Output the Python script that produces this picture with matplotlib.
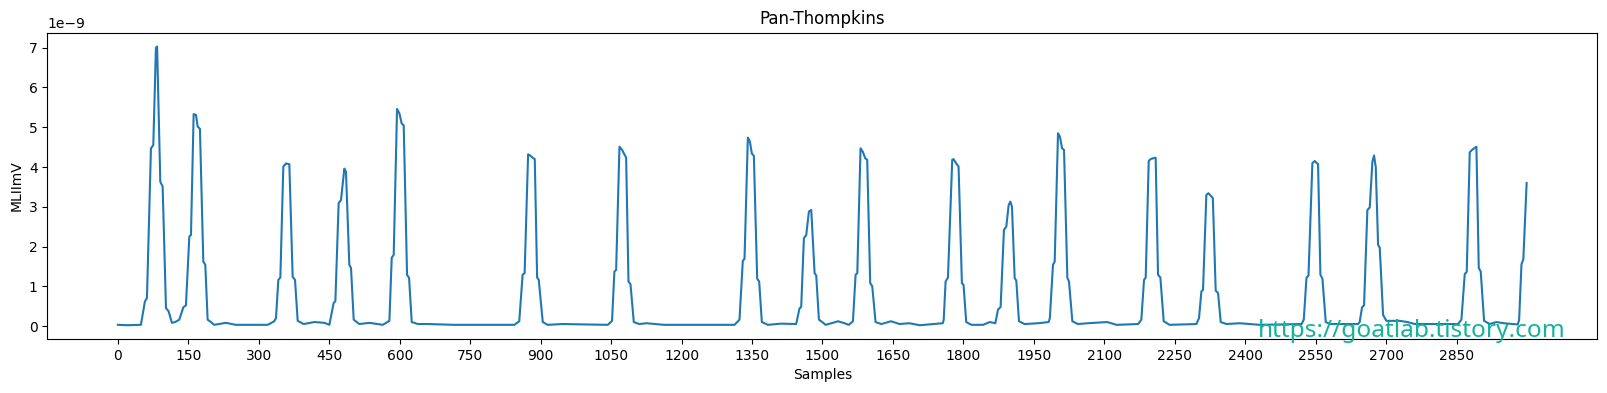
import numpy as np
from matplotlib import pyplot as plt

### Breakpoints of the integrated signal (sample index, value in 1e-9 mV)
samples = [0, 20, 49, 57.6, 61.9, 70.4, 75.4, 81, 83.5, 90.3, 95.3, 102.4, 108, 115.1, 122, 130.8,
           139.3, 144.9, 152.1, 155.6, 161.3, 166.3, 169.8, 174.7, 181.9, 186.1, 191.1, 198, 205,
           230, 251, 319, 333, 336.6, 341.6, 345.9, 352.2, 357.9, 365, 372.1, 377.1, 382.8, 395.6,
           418.3, 439.6, 450.2, 459.3, 463, 470, 475, 482.1, 485.6, 492.7, 496.3, 502, 514, 535.4,
           563.8, 578, 583, 587.2, 594.3, 599.3, 604.3, 608.5, 615.6, 619.9, 625.6, 638.4, 659.7,
           716, 844, 854.5, 861.6, 865.9, 873.3, 877.5, 884.6, 887.5, 892.5, 896, 904.5, 915, 947,
           1043, 1052, 1057, 1060.7, 1067.8, 1073.5, 1079, 1082, 1087, 1091.3, 1098.3, 1110, 1125,
           1163, 1312.7, 1323.3, 1330.4, 1334, 1341.1, 1345.3, 1349.6, 1353.9, 1361, 1365.2, 1370.9,
           1383.7, 1412, 1444, 1451, 1454.7, 1460.4, 1465.4, 1471.1, 1476.1, 1483.2, 1486.7, 1492.4,
           1499.5, 1506.6, 1522, 1533, 1547, 1556, 1564.8, 1570.5, 1574.1, 1581, 1586, 1591, 1595.2,
           1601.6, 1605.9, 1613, 1625, 1646, 1664, 1685, 1707, 1756, 1758, 1762.1, 1767.1, 1776.2,
           1779, 1784.7, 1789.7, 1796.8, 1800.3, 1806, 1817, 1842, 1856, 1868, 1873.6, 1879.2,
           1886.3, 1891.3, 1896.3, 1899.9, 1903.4, 1909.1, 1912.6, 1918.3, 1930, 1959, 1981.5, 1984,
           1990.7, 1994.3, 2001.4, 2005.6, 2009.9, 2014.2, 2021.3, 2024.8, 2031.9, 2044, 2065, 2106,
           2126, 2172, 2178.8, 2184.5, 2188.1, 2194.5, 2198.7, 2207.2, 2209.3, 2214.3, 2219.3, 2226.4,
           2239, 2296, 2301.6, 2306.6, 2310.1, 2317.2, 2321.5, 2327.9, 2331, 2337.1, 2342.1, 2347.8,
           2360, 2388, 2431, 2520, 2524.6, 2530.3, 2534.6, 2542.9, 2547.9, 2555, 2560, 2564.3, 2571.4,
           2580, 2640, 2643.6, 2648.6, 2652.9, 2660, 2665, 2670.7, 2674.2, 2677.8, 2682.8, 2686.3,
           2693.4, 2700.5, 2729, 2745, 2761, 2853, 2860.2, 2867.3, 2871.5, 2877.9, 2882.8, 2887.1,
           2892.1, 2897.1, 2901.3, 2908.4, 2920.5, 2934.7, 2950, 2980, 2983, 2988, 2992, 2999]
values = [0.03, 0.02, 0.03, 0.62, 0.70, 4.47, 4.55, 7.0, 7.03, 3.63, 3.51, 0.45, 0.37, 0.08, 0.1, 0.16,
          0.47, 0.52, 2.25, 2.29, 5.33, 5.31, 5.02, 4.96, 1.62, 1.54, 0.16, 0.1, 0.03,
          0.08, 0.03, 0.03, 0.12, 0.2, 1.16, 1.22, 4.01, 4.09, 4.07, 1.24, 1.16, 0.13, 0.05,
          0.1, 0.08, 0.03, 0.58, 0.62, 3.09, 3.17, 3.96, 3.88, 1.54, 1.46, 0.16, 0.05, 0.08,
          0.03, 0.13, 1.72, 1.79, 5.46, 5.35, 5.09, 5.05, 1.29, 1.21, 0.1, 0.05, 0.05,
          0.03, 0.03, 0.12, 1.29, 1.33, 4.32, 4.29, 4.22, 4.2, 1.22, 1.16, 0.1, 0.03, 0.05,
          0.03, 0.13, 1.37, 1.41, 4.51, 4.43, 4.3, 4.24, 1.12, 1.05, 0.1, 0.05, 0.07,
          0.03, 0.03, 0.16, 1.64, 1.69, 4.74, 4.65, 4.34, 4.28, 1.19, 1.12, 0.1,
          0.03, 0.06, 0.05, 0.44, 0.48, 2.21, 2.29, 2.88, 2.92, 1.33, 1.27, 0.16,
          0.1, 0.03, 0.08, 0.12, 0.07, 0.03, 0.12, 1.29, 1.33, 4.47, 4.38, 4.22, 4.18,
          1.08, 1.0, 0.1, 0.05, 0.12, 0.05, 0.07, 0.02, 0.07, 0.15, 1.12, 1.22, 4.18,
          4.2, 4.09, 4.01, 1.08, 1.03, 0.1, 0.03, 0.03, 0.1, 0.07, 0.41, 0.48,
          2.42, 2.5, 3.04, 3.13, 3.0, 1.21, 1.14, 0.12, 0.05, 0.07, 0.1, 0.2,
          1.54, 1.62, 4.85, 4.76, 4.47, 4.43, 1.21, 1.12, 0.12, 0.05, 0.07, 0.1,
          0.03, 0.05, 0.16, 1.16, 1.22, 4.15, 4.2, 4.23, 4.23, 1.29, 1.22, 0.12,
          0.03, 0.05, 0.2, 0.87, 0.91, 3.3, 3.34, 3.26, 3.22, 0.89, 0.83, 0.1,
          0.05, 0.07, 0.03, 0.05, 0.16, 1.21, 1.27, 4.1, 4.15, 4.07, 1.29, 1.19, 0.1,
          0.05, 0.05, 0.1, 0.47, 0.52, 2.92, 2.98, 4.14, 4.29, 4.0, 2.04, 1.97,
          0.28, 0.13, 0.13, 0.1, 0.05, 0.05, 0.16, 1.31, 1.36, 4.37, 4.43, 4.47,
          4.51, 1.46, 1.37, 0.13, 0.05, 0.1, 0.07, 0.04, 0.15, 1.55, 1.68, 3.6]
scale = 1e-9
tick_step = 150
n_samples = 3000

fig = plt.figure(figsize=(16.08, 3.93), dpi=100)
ax = fig.add_axes([0.0295, 0.137, 0.9637, 0.78])
ax.plot(samples, np.array(values) * scale)
ax.set_title('Pan-Thompkins')
ax.set_xlabel('Samples')
ax.set_ylabel('MLIImV')
ax.set_xticks(np.arange(0, n_samples, tick_step))
ax.set_xlim(-0.05 * (n_samples - 1), (n_samples - 1) * 1.05)

# watermark pasted over the lower right corner
fig.text(0.7825, 0.143, 'https://goatlab.tistory.com', color='#12b39a',
         fontsize=17.6, family=['Noto Sans', 'DejaVu Sans'])

fig.savefig('out.png', dpi=100)
